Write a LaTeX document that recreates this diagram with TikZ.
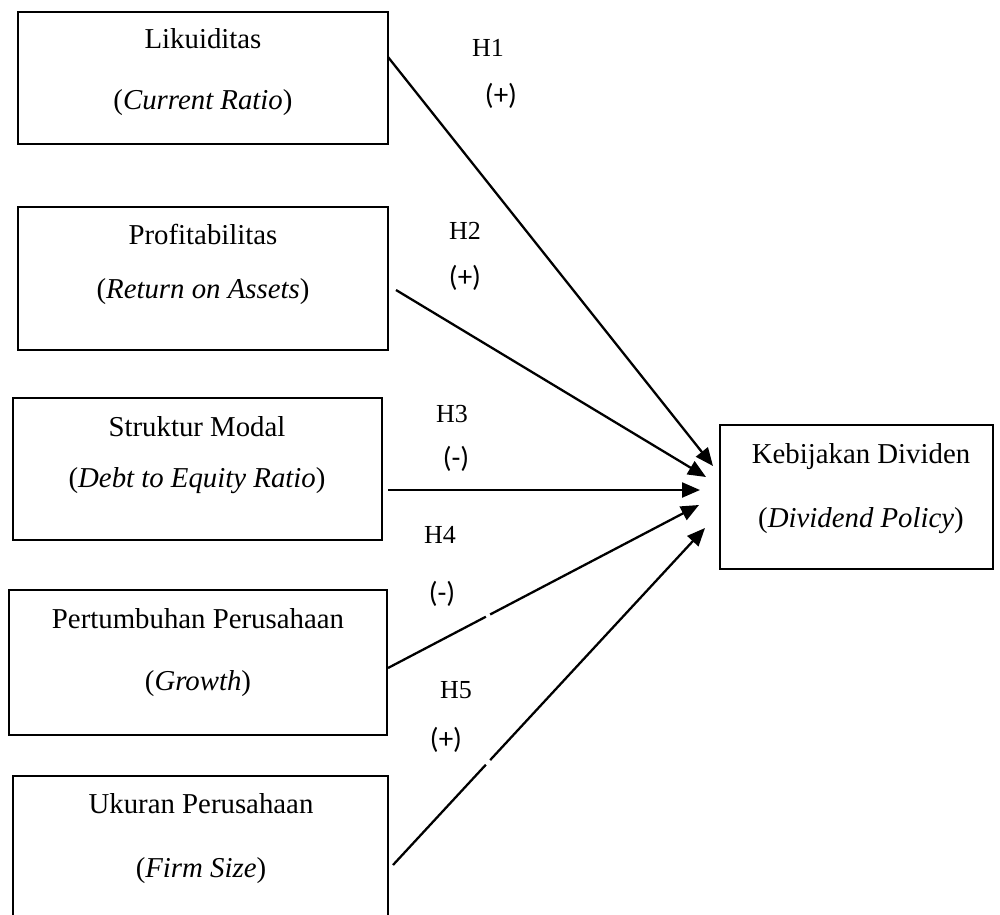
\documentclass[tikz,border=0pt]{standalone}
\usepackage{fontspec}
\setmainfont{Liberation Serif}
\newfontfamily\labfont{Carlito}
\usetikzlibrary{arrows.meta,calc}
\begin{document}
\begin{tikzpicture}[x=0.02cm,y=-0.02cm,
 box/.style={draw, line width=1.45pt, inner sep=0pt},
 txt/.style={font=\fontsize{16.4}{20}\selectfont, inner sep=0pt, anchor=base},
 hyp/.style={font=\fontsize{14.8}{18}\selectfont, inner sep=0pt, anchor=base},
 sgn/.style={font=\labfont\fontsize{16.5}{18}\selectfont, inner sep=0pt, anchor=base},
 arr/.style={line width=1.3pt, -{Triangle[length=0.36cm,width=0.3cm]}},
 gapline/.style={white, line width=3pt}]
\useasboundingbox (0,0) rectangle (1000,915);
% boxes
\node[box, minimum width=7.4cm, minimum height=2.64cm] (b1) at (203,78) {};
\node[box, minimum width=7.4cm, minimum height=2.86cm] (b2) at (203,278.5) {};
\node[box, minimum width=7.38cm, minimum height=2.84cm] (b3) at (197.5,469) {};
\node[box, minimum width=7.56cm, minimum height=2.9cm] (b4) at (198,662.5) {};
\node[box, minimum width=7.5cm, minimum height=3.08cm] (b5) at (200.5,853) {};
\node[box, minimum width=5.46cm, minimum height=2.88cm] (bt) at (856.5,497) {};
% box texts
\node[txt] (b1a) at (203,49) {Likuiditas};
\node[txt] (b1b) at (203,110) {(\textit{Current Ratio})};
\node[txt] (b2a) at (203,245) {Profitabilitas};
\node[txt] (b2b) at (203,298) {(\textit{Return on Assets})};
\node[txt] (b3a) at (197,436) {Struktur Modal};
\node[txt] (b3b) at (197,487) {(\textit{Debt to Equity Ratio})};
\node[txt] (b4a) at (198,628) {Pertumbuhan Perusahaan};
\node[txt] (b4b) at (198,690) {(\textit{Growth})};
\node[txt] (b5a) at (201,813) {Ukuran Perusahaan};
\node[txt] (b5b) at (201,877) {(\textit{Firm Size})};
\node[txt] (bta) at (861,463) {Kebijakan Dividen};
\node[txt] (btb) at (861,527) {(\textit{Dividend Policy})};
% hypothesis labels
\node[hyp] (h1) at (488,57) {H1};
\node[sgn] (s1l) at (501,105) {(+)};
\node[hyp] (h2) at (465,240) {H2};
\node[sgn] (s2l) at (465,287) {(+)};
\node[hyp] (h3) at (452,422) {H3};
\node[sgn] (s3l) at (456,467) {(-)};
\node[hyp] (h4) at (440,543) {H4};
\node[sgn] (s4l) at (442,602) {(-)};
\node[hyp] (h5) at (456,698) {H5};
\node[sgn] (s5l) at (446,748) {(+)};
% connector end points
\coordinate (s1) at (388,57);
\coordinate (s2) at (396,290);
\coordinate (s3) at (388,490);
\coordinate (s4) at (388,668);
\coordinate (s5) at (393,865);
\coordinate (t1) at (713,466);
\coordinate (t2) at (706,477);
\coordinate (t3) at (700,490);
\coordinate (t4) at (699,505);
\coordinate (t5) at (705,528);
\draw[arr] (s1) -- (t1);
\draw[arr] (s2) -- (t2);
\draw[arr] (s3) -- (t3);
\draw[arr] (s4) -- (t4);
\draw[arr] (s5) -- (t5);
% small breaks in two connectors, as in the reference
\draw[gapline] ($(s4)!0.315!(t4)$) -- ($(s4)!0.328!(t4)$);
\draw[gapline] ($(s5)!0.298!(t5)$) -- ($(s5)!0.311!(t5)$);
\end{tikzpicture}
\end{document}
